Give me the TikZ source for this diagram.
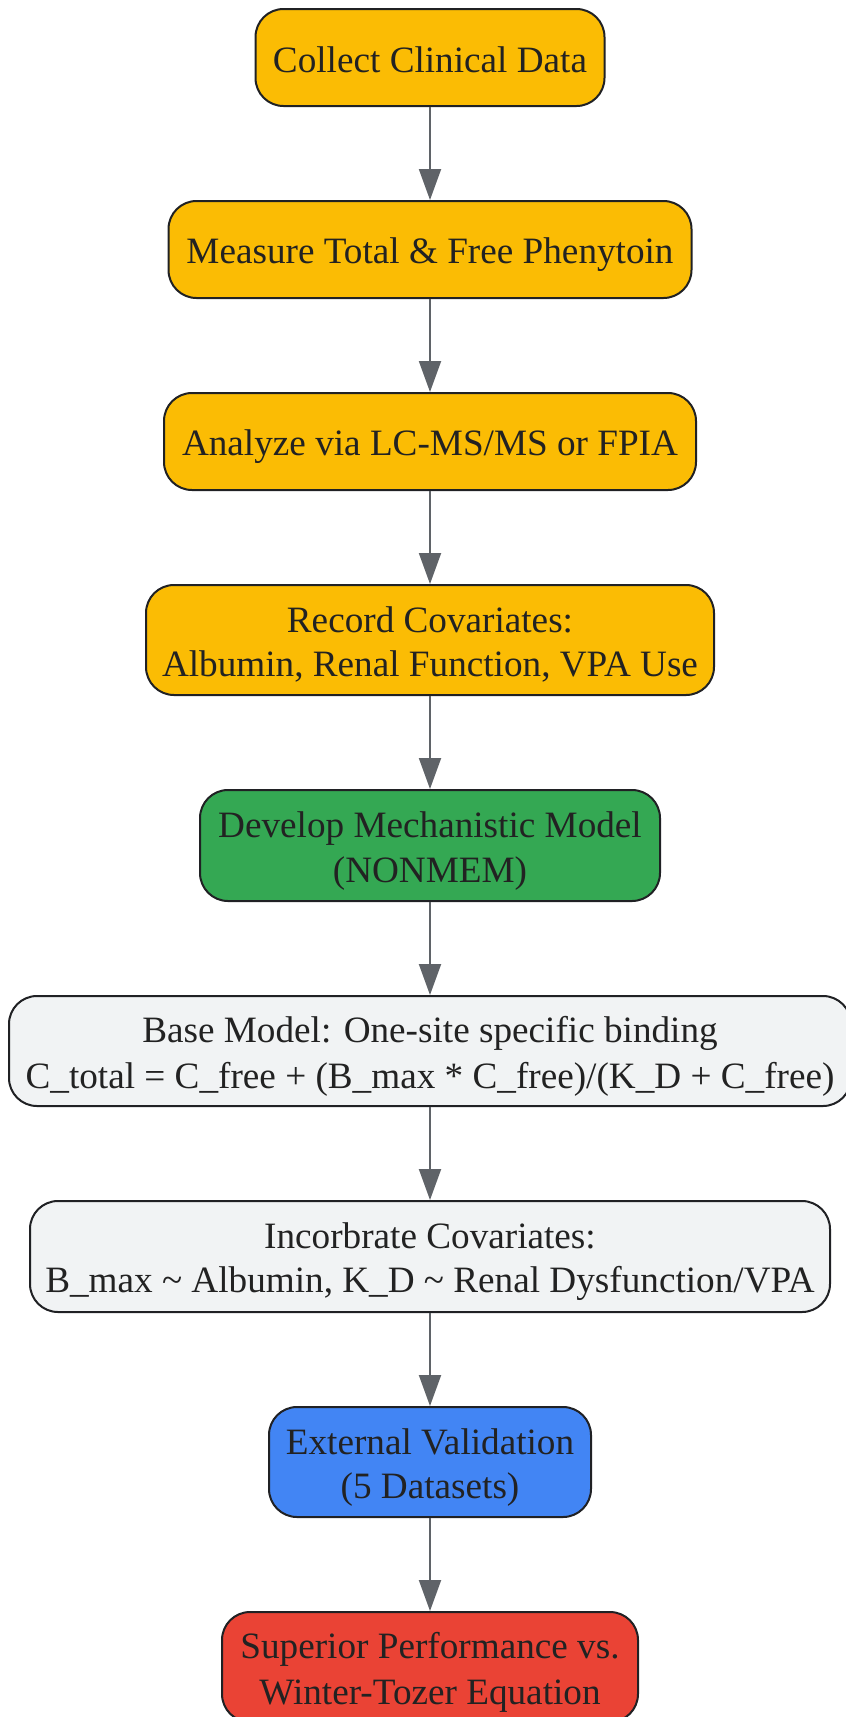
\documentclass[tikz,border=0pt]{standalone}
\usepackage{fontspec}
\setmainfont{Liberation Serif}
\usetikzlibrary{arrows.meta}
\definecolor{cyellow}{HTML}{FBBC04}
\definecolor{cgreen}{HTML}{34A853}
\definecolor{cblue}{HTML}{4285F4}
\definecolor{cred}{HTML}{EA4335}
\definecolor{cgray}{HTML}{F1F3F4}
\definecolor{cborder}{HTML}{202124}
\definecolor{carrow}{HTML}{5F6368}
\definecolor{ctext}{HTML}{222222}
\newcommand\lnstrut{\rule[-7.5pt]{0pt}{44pt}}
\tikzset{
  box/.style={draw=cborder, line width=2pt, rounded corners=28pt, align=center,
    text=ctext, font=\fontsize{37.2}{44}\selectfont, inner sep=0pt},
  flow/.style={draw=carrow, line width=2pt, -{Triangle[length=31pt,width=22pt]}, color=carrow}
}
\begin{document}
\begin{tikzpicture}[x=1pt,y=-1pt]
\useasboundingbox (0,0) rectangle (846,1717);
\node[box, fill=cyellow, minimum width=349pt, minimum height=97pt] (n1) at (430,57.5) {\lnstrut Collect Clinical Data};
\node[box, fill=cyellow, minimum width=523pt, minimum height=97pt] (n2) at (430,249.5) {\lnstrut Measure Total \& Free Phenytoin};
\node[box, fill=cyellow, minimum width=532pt, minimum height=97pt] (n3) at (430,441.5) {\lnstrut Analyze via LC-MS/MS or FPIA};
\node[box, fill=cyellow, minimum width=568pt, minimum height=110pt] (n4) at (430,640) {\lnstrut Record Covariates:\\\lnstrut Albumin, Renal Function, VPA Use};
\node[box, fill=cgreen, minimum width=460pt, minimum height=111pt] (n5) at (430,845.5) {\lnstrut Develop Mechanistic Model\\\lnstrut (NONMEM)};
\node[box, fill=cgray, minimum width=842pt, minimum height=110pt] (n6) at (430,1051) {\lnstrut Base Model: One-site specific binding\\\lnstrut C\_total = C\_free + (B\_max * C\_free)/(K\_D + C\_free)};
\node[box, fill=cgray, minimum width=800pt, minimum height=111pt] (n7) at (430,1256.5) {\lnstrut Incorbrate Covariates:\\\lnstrut B\_max \textasciitilde{} Albumin, K\_D \textasciitilde{} Renal Dysfunction/VPA};
\node[box, fill=cblue, minimum width=322pt, minimum height=110pt] (n8) at (430,1462) {\lnstrut External Validation\\\lnstrut (5 Datasets)};
\node[box, fill=cred, minimum width=416pt, minimum height=110pt] (n9) at (430,1667) {\lnstrut Superior Performance vs.\\\lnstrut Winter-Tozer Equation};
\draw[flow] (n1) -- (n2);
\draw[flow] (n2) -- (n3);
\draw[flow] (n3) -- (n4);
\draw[flow] (n4) -- (n5);
\draw[flow] (n5) -- (n6);
\draw[flow] (n6) -- (n7);
\draw[flow] (n7) -- (n8);
\draw[flow] (n8) -- (n9);
\end{tikzpicture}
\end{document}
